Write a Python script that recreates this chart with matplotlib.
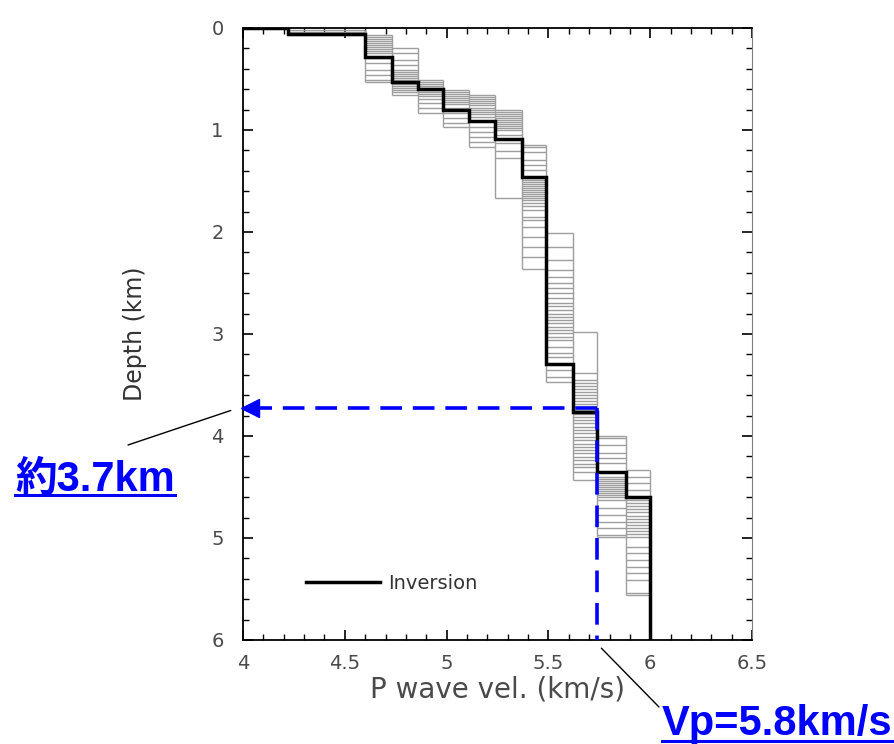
import matplotlib
matplotlib.use("Agg")
import matplotlib.pyplot as plt
from matplotlib.lines import Line2D
from matplotlib.ticker import MultipleLocator

# layer velocities of the ensemble models (km/s)
layer_vel = [4.22, 4.60, 4.73, 4.86, 4.98, 5.11, 5.24, 5.37, 5.49, 5.62, 5.74, 5.88, 6.00]

# interface depths (km) of the ensemble models, one list per boundary
iface_depths = [
    [0.02, 0.04, 0.06, 0.07],
    [0.07, 0.09, 0.11, 0.13, 0.15, 0.17, 0.19, 0.21, 0.23, 0.25, 0.29, 0.34, 0.41, 0.46, 0.51, 0.53],
    [0.20, 0.25, 0.31, 0.36, 0.41, 0.43, 0.45, 0.47, 0.49, 0.51, 0.53, 0.55, 0.57, 0.59, 0.61, 0.63, 0.66],
    [0.51, 0.53, 0.55, 0.57, 0.59, 0.61, 0.63, 0.65, 0.67, 0.70, 0.74, 0.78, 0.83],
    [0.61, 0.63, 0.65, 0.67, 0.69, 0.71, 0.73, 0.75, 0.78, 0.83, 0.88, 0.93, 0.97],
    [0.66, 0.68, 0.70, 0.72, 0.74, 0.76, 0.78, 0.80, 0.82, 0.84, 0.87, 0.97, 1.02, 1.07, 1.12, 1.17],
    [0.80, 0.82, 0.84, 0.86, 0.88, 0.90, 0.92, 0.94, 0.96, 0.98, 1.00, 1.05, 1.13, 1.21, 1.27, 1.67],
    [1.15, 1.17, 1.22, 1.29, 1.34, 1.39, 1.49, 1.51, 1.53, 1.55, 1.57, 1.59, 1.61, 1.63, 1.65,
     1.67, 1.69, 1.72, 1.75, 1.78, 1.85, 1.88, 1.95, 2.05, 2.15, 2.25, 2.36],
    [2.01, 2.15, 2.27, 2.37, 2.44, 2.50, 2.55, 2.60, 2.65, 2.70, 2.73, 2.76, 2.80, 2.83, 2.86,
     2.89, 2.93, 2.96, 2.99, 3.03, 3.06, 3.13, 3.19, 3.23, 3.35, 3.42, 3.47],
    [2.98, 3.38, 3.45, 3.48, 3.51, 3.54, 3.57, 3.60, 3.63, 3.66, 3.69, 3.72, 3.75, 3.78, 3.81,
     3.84, 3.87, 3.91, 3.94, 3.97, 4.01, 4.04, 4.08, 4.11, 4.14, 4.17, 4.21, 4.24, 4.27, 4.30,
     4.35, 4.43],
    [4.00, 4.02, 4.09, 4.17, 4.22, 4.26, 4.40, 4.42, 4.44, 4.46, 4.48, 4.50, 4.52, 4.54, 4.56,
     4.58, 4.60, 4.63, 4.71, 4.77, 4.84, 4.90, 4.97, 4.99],
    [4.33, 4.40, 4.46, 4.53, 4.63, 4.66, 4.69, 4.72, 4.75, 4.78, 4.81, 4.84, 4.87, 4.90, 4.93,
     4.96, 4.99, 5.09, 5.15, 5.22, 5.28, 5.34, 5.41, 5.54, 5.56],
]

# inversion result: velocity of each layer and depth of its bottom
inv_vel = [4.00, 4.22, 4.60, 4.73, 4.86, 4.98, 5.11, 5.24, 5.37, 5.49, 5.62, 5.74, 5.88, 6.00]
inv_bottom = [0.00, 0.06, 0.28, 0.53, 0.60, 0.80, 0.91, 1.09, 1.46, 3.29, 3.76, 4.35, 4.60, 6.00]

# marked point
mark_depth = 3.73
mark_vel = 5.74
depth_text = "約3.7km"
vel_text = "Vp=5.8km/s"

max_depth = 6.0
blue = "#0000FF"
gray_txt = "#4a4a4a"

fig = plt.figure(figsize=(8.94, 7.44), dpi=100)
ax = fig.add_axes([0.2718, 0.1398, 0.5694, 0.8226])

# ensemble of models (thin gray)
for k, depths in enumerate(iface_depths):
    ax.hlines(depths, layer_vel[k], layer_vel[k + 1], colors="0.62", lw=1.0)
for k, v in enumerate(layer_vel):
    top = min(iface_depths[k - 1]) if k > 0 else 0.0
    bot = max(iface_depths[k]) if k < len(iface_depths) else max_depth
    ax.vlines(v, top, bot, colors="0.62", lw=1.0)

# inversion model (thick step line)
xs, ys = [], []
top = 0.0
for v, b in zip(inv_vel, inv_bottom):
    xs += [v, v]
    ys += [top, b]
    top = b
ax.plot(xs, ys, color="k", lw=2.5, label="Inversion", solid_joinstyle="miter")

# blue dashed guide lines
ax.plot([mark_vel, 4.06], [mark_depth, mark_depth], color=blue, lw=2.6,
        linestyle=(0, (6, 3)), clip_on=False, zorder=5)
ax.plot([mark_vel, mark_vel], [mark_depth, max_depth], color=blue, lw=2.6,
        linestyle=(0, (6, 3)), zorder=5)
ax.plot([4.035], [mark_depth], marker="<", ms=13, color=blue, mec=blue,
        clip_on=False, zorder=6)

ax.set_xlim(4, 6.5)
ax.set_ylim(max_depth, 0)
ax.xaxis.set_major_locator(MultipleLocator(0.5))
ax.xaxis.set_minor_locator(MultipleLocator(0.1))
ax.yaxis.set_major_locator(MultipleLocator(1))
ax.yaxis.set_minor_locator(MultipleLocator(0.2))
ax.set_xticks([4, 4.5, 5, 5.5, 6, 6.5], ["4", "4.5", "5", "5.5", "6", "6.5"])
ax.tick_params(which="both", direction="in", top=True, right=True, color="k")
ax.tick_params(which="major", length=7, width=1.2, labelsize=14, labelcolor=gray_txt, pad=10)
ax.tick_params(which="minor", length=4, width=1.0)
ax.tick_params(axis="y", which="major", pad=14)
for s in ["left", "bottom", "top"]:
    ax.spines[s].set_linewidth(1.3)
ax.spines["right"].set_color("0.5")

ax.set_xlabel("P wave vel. (km/s)", fontsize=20, color=gray_txt, labelpad=2)
ax.set_ylabel("Depth (km)", fontsize=17, color="#333333", labelpad=46)

ax.legend(loc="center left", bbox_to_anchor=(0.09, 0.093), frameon=False,
          handlelength=3.8, handletextpad=0.4, fontsize=14, labelcolor="#333333")

# annotations
font_txt = dict(color=blue, fontsize=30, fontweight="bold",
                family=["Liberation Sans", "Noto Sans CJK JP"], ha="left", va="baseline")
t1 = fig.text(15 / 894, 1 - 491 / 744, depth_text, **font_txt)
t2 = fig.text(662 / 894, 1 - 735 / 744, vel_text, **font_txt)

ax.annotate("", xy=(3.94, 3.75), xytext=(128 / 894, 1 - 445 / 744),
            textcoords="figure fraction", annotation_clip=False,
            arrowprops=dict(arrowstyle="-", color="k", lw=1.0, shrinkA=0, shrinkB=0))
ax.annotate("", xy=(5.76, 6.08), xytext=(659 / 894, 1 - 707 / 744),
            textcoords="figure fraction", annotation_clip=False,
            arrowprops=dict(arrowstyle="-", color="k", lw=1.0, shrinkA=0, shrinkB=0))

# underline the blue texts
fig.canvas.draw()
r = fig.canvas.get_renderer()
W, H = fig.bbox.width, fig.bbox.height
for t, gap in ((t1, 4), (t2, 6)):
    bb = t.get_window_extent(r)
    yb = t.get_position()[1] * H - gap
    fig.add_artist(Line2D([bb.x0 / W, bb.x1 / W], [yb / H, yb / H],
                          transform=fig.transFigure, color=blue, lw=2.2))

fig.savefig("out.png", dpi=100)
